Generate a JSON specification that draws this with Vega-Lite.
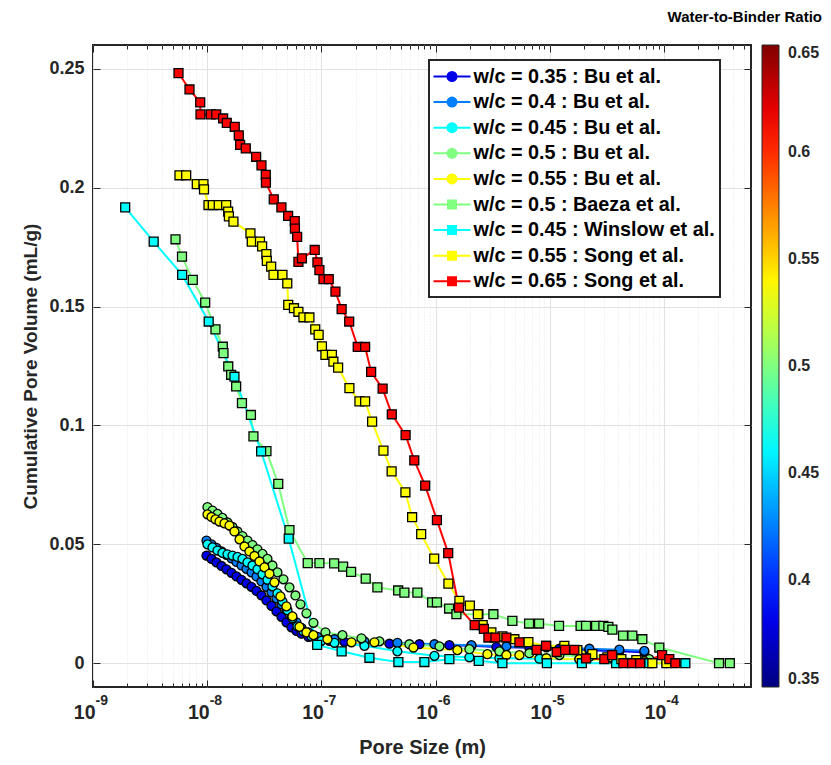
{
  "$schema": "https://vega.github.io/schema/vega-lite/v6.json",
  "autosize": {"type": "none"},
  "padding": {"left": 93, "top": 45, "right": 80, "bottom": 78},
  "width": 658,
  "height": 642,
  "title": {"text": "Water-to-Binder Ratio", "anchor": "end", "frame": "group", "dx": 71, "offset": 20, "fontSize": 15, "font": "Liberation Sans", "fontWeight": "bold", "color": "#000000"},
  "config": {
    "font": "Liberation Sans",
    "view": {"stroke": "#262626", "strokeWidth": 2},
    "axis": {"domain": false, "labelFont": "Liberation Sans", "labelFontWeight": "bold", "labelColor": "#262626", "titleFont": "Liberation Sans", "titleFontWeight": "bold", "titleColor": "#262626", "tickColor": "#262626", "tickWidth": 1, "labelFlush": false, "labelOverlap": false}
  },
  "data": {"values": [
    {"series": "w/c = 0.35 : Bu et al.", "source": "Bu et al.", "wc": 0.35, "pore": 9.86e-9, "vol": 0.0453},
    {"series": "w/c = 0.35 : Bu et al.", "source": "Bu et al.", "wc": 0.35, "pore": 1.091e-8, "vol": 0.0439},
    {"series": "w/c = 0.35 : Bu et al.", "source": "Bu et al.", "wc": 0.35, "pore": 1.206e-8, "vol": 0.0424},
    {"series": "w/c = 0.35 : Bu et al.", "source": "Bu et al.", "wc": 0.35, "pore": 1.335e-8, "vol": 0.0409},
    {"series": "w/c = 0.35 : Bu et al.", "source": "Bu et al.", "wc": 0.35, "pore": 1.476e-8, "vol": 0.0395},
    {"series": "w/c = 0.35 : Bu et al.", "source": "Bu et al.", "wc": 0.35, "pore": 1.633e-8, "vol": 0.0380},
    {"series": "w/c = 0.35 : Bu et al.", "source": "Bu et al.", "wc": 0.35, "pore": 1.806e-8, "vol": 0.0365},
    {"series": "w/c = 0.35 : Bu et al.", "source": "Bu et al.", "wc": 0.35, "pore": 1.998e-8, "vol": 0.0351},
    {"series": "w/c = 0.35 : Bu et al.", "source": "Bu et al.", "wc": 0.35, "pore": 2.209e-8, "vol": 0.0336},
    {"series": "w/c = 0.35 : Bu et al.", "source": "Bu et al.", "wc": 0.35, "pore": 2.443e-8, "vol": 0.0321},
    {"series": "w/c = 0.35 : Bu et al.", "source": "Bu et al.", "wc": 0.35, "pore": 2.702e-8, "vol": 0.0304},
    {"series": "w/c = 0.35 : Bu et al.", "source": "Bu et al.", "wc": 0.35, "pore": 2.989e-8, "vol": 0.0285},
    {"series": "w/c = 0.35 : Bu et al.", "source": "Bu et al.", "wc": 0.35, "pore": 3.306e-8, "vol": 0.0264},
    {"series": "w/c = 0.35 : Bu et al.", "source": "Bu et al.", "wc": 0.35, "pore": 3.657e-8, "vol": 0.0241},
    {"series": "w/c = 0.35 : Bu et al.", "source": "Bu et al.", "wc": 0.35, "pore": 4.045e-8, "vol": 0.0218},
    {"series": "w/c = 0.35 : Bu et al.", "source": "Bu et al.", "wc": 0.35, "pore": 4.474e-8, "vol": 0.0195},
    {"series": "w/c = 0.35 : Bu et al.", "source": "Bu et al.", "wc": 0.35, "pore": 4.948e-8, "vol": 0.0172},
    {"series": "w/c = 0.35 : Bu et al.", "source": "Bu et al.", "wc": 0.35, "pore": 5.474e-8, "vol": 0.0151},
    {"series": "w/c = 0.35 : Bu et al.", "source": "Bu et al.", "wc": 0.35, "pore": 6.054e-8, "vol": 0.0136},
    {"series": "w/c = 0.35 : Bu et al.", "source": "Bu et al.", "wc": 0.35, "pore": 6.696e-8, "vol": 0.0124},
    {"series": "w/c = 0.35 : Bu et al.", "source": "Bu et al.", "wc": 0.35, "pore": 7.711e-8, "vol": 0.0111},
    {"series": "w/c = 0.35 : Bu et al.", "source": "Bu et al.", "wc": 0.35, "pore": 9.244e-8, "vol": 0.0101},
    {"series": "w/c = 0.35 : Bu et al.", "source": "Bu et al.", "wc": 0.35, "pore": 1.177e-7, "vol": 0.0094},
    {"series": "w/c = 0.35 : Bu et al.", "source": "Bu et al.", "wc": 0.35, "pore": 1.593e-7, "vol": 0.0090},
    {"series": "w/c = 0.35 : Bu et al.", "source": "Bu et al.", "wc": 0.35, "pore": 2.385e-7, "vol": 0.0086},
    {"series": "w/c = 0.35 : Bu et al.", "source": "Bu et al.", "wc": 0.35, "pore": 3.948e-7, "vol": 0.0082},
    {"series": "w/c = 0.35 : Bu et al.", "source": "Bu et al.", "wc": 0.35, "pore": 7.229e-7, "vol": 0.0080},
    {"series": "w/c = 0.35 : Bu et al.", "source": "Bu et al.", "wc": 0.35, "pore": 1.323e-6, "vol": 0.0076},
    {"series": "w/c = 0.35 : Bu et al.", "source": "Bu et al.", "wc": 0.35, "pore": 2.062e-6, "vol": 0.0073},
    {"series": "w/c = 0.35 : Bu et al.", "source": "Bu et al.", "wc": 0.35, "pore": 3.415e-6, "vol": 0.0068},
    {"series": "w/c = 0.35 : Bu et al.", "source": "Bu et al.", "wc": 0.35, "pore": 6.642e-6, "vol": 0.0065},
    {"series": "w/c = 0.35 : Bu et al.", "source": "Bu et al.", "wc": 0.35, "pore": 1.216e-5, "vol": 0.0061},
    {"series": "w/c = 0.35 : Bu et al.", "source": "Bu et al.", "wc": 0.35, "pore": 2.227e-5, "vol": 0.0055},
    {"series": "w/c = 0.35 : Bu et al.", "source": "Bu et al.", "wc": 0.35, "pore": 4.077e-5, "vol": 0.0050},
    {"series": "w/c = 0.35 : Bu et al.", "source": "Bu et al.", "wc": 0.35, "pore": 6.749e-5, "vol": 0.0046},

    {"series": "w/c = 0.4 : Bu et al.", "source": "Bu et al.", "wc": 0.4, "pore": 9.86e-9, "vol": 0.0516},
    {"series": "w/c = 0.4 : Bu et al.", "source": "Bu et al.", "wc": 0.4, "pore": 1.091e-8, "vol": 0.0500},
    {"series": "w/c = 0.4 : Bu et al.", "source": "Bu et al.", "wc": 0.4, "pore": 1.206e-8, "vol": 0.0485},
    {"series": "w/c = 0.4 : Bu et al.", "source": "Bu et al.", "wc": 0.4, "pore": 1.335e-8, "vol": 0.0470},
    {"series": "w/c = 0.4 : Bu et al.", "source": "Bu et al.", "wc": 0.4, "pore": 1.476e-8, "vol": 0.0456},
    {"series": "w/c = 0.4 : Bu et al.", "source": "Bu et al.", "wc": 0.4, "pore": 1.633e-8, "vol": 0.0441},
    {"series": "w/c = 0.4 : Bu et al.", "source": "Bu et al.", "wc": 0.4, "pore": 1.806e-8, "vol": 0.0426},
    {"series": "w/c = 0.4 : Bu et al.", "source": "Bu et al.", "wc": 0.4, "pore": 1.998e-8, "vol": 0.0411},
    {"series": "w/c = 0.4 : Bu et al.", "source": "Bu et al.", "wc": 0.4, "pore": 2.209e-8, "vol": 0.0397},
    {"series": "w/c = 0.4 : Bu et al.", "source": "Bu et al.", "wc": 0.4, "pore": 2.443e-8, "vol": 0.0382},
    {"series": "w/c = 0.4 : Bu et al.", "source": "Bu et al.", "wc": 0.4, "pore": 2.702e-8, "vol": 0.0365},
    {"series": "w/c = 0.4 : Bu et al.", "source": "Bu et al.", "wc": 0.4, "pore": 2.989e-8, "vol": 0.0344},
    {"series": "w/c = 0.4 : Bu et al.", "source": "Bu et al.", "wc": 0.4, "pore": 3.306e-8, "vol": 0.0321},
    {"series": "w/c = 0.4 : Bu et al.", "source": "Bu et al.", "wc": 0.4, "pore": 3.657e-8, "vol": 0.0298},
    {"series": "w/c = 0.4 : Bu et al.", "source": "Bu et al.", "wc": 0.4, "pore": 4.045e-8, "vol": 0.0273},
    {"series": "w/c = 0.4 : Bu et al.", "source": "Bu et al.", "wc": 0.4, "pore": 4.474e-8, "vol": 0.0248},
    {"series": "w/c = 0.4 : Bu et al.", "source": "Bu et al.", "wc": 0.4, "pore": 4.948e-8, "vol": 0.0223},
    {"series": "w/c = 0.4 : Bu et al.", "source": "Bu et al.", "wc": 0.4, "pore": 5.474e-8, "vol": 0.0197},
    {"series": "w/c = 0.4 : Bu et al.", "source": "Bu et al.", "wc": 0.4, "pore": 6.054e-8, "vol": 0.0172},
    {"series": "w/c = 0.4 : Bu et al.", "source": "Bu et al.", "wc": 0.4, "pore": 6.696e-8, "vol": 0.0149},
    {"series": "w/c = 0.4 : Bu et al.", "source": "Bu et al.", "wc": 0.4, "pore": 7.711e-8, "vol": 0.0130},
    {"series": "w/c = 0.4 : Bu et al.", "source": "Bu et al.", "wc": 0.4, "pore": 9.244e-8, "vol": 0.0111},
    {"series": "w/c = 0.4 : Bu et al.", "source": "Bu et al.", "wc": 0.4, "pore": 1.302e-7, "vol": 0.0101},
    {"series": "w/c = 0.4 : Bu et al.", "source": "Bu et al.", "wc": 0.4, "pore": 2.385e-7, "vol": 0.0092},
    {"series": "w/c = 0.4 : Bu et al.", "source": "Bu et al.", "wc": 0.4, "pore": 4.639e-7, "vol": 0.0086},
    {"series": "w/c = 0.4 : Bu et al.", "source": "Bu et al.", "wc": 0.4, "pore": 9.781e-7, "vol": 0.0080},
    {"series": "w/c = 0.4 : Bu et al.", "source": "Bu et al.", "wc": 0.4, "pore": 2.062e-6, "vol": 0.0076},
    {"series": "w/c = 0.4 : Bu et al.", "source": "Bu et al.", "wc": 0.4, "pore": 4.177e-6, "vol": 0.0071},
    {"series": "w/c = 0.4 : Bu et al.", "source": "Bu et al.", "wc": 0.4, "pore": 9.356e-6, "vol": 0.0067},
    {"series": "w/c = 0.4 : Bu et al.", "source": "Bu et al.", "wc": 0.4, "pore": 2.227e-5, "vol": 0.0061},
    {"series": "w/c = 0.4 : Bu et al.", "source": "Bu et al.", "wc": 0.4, "pore": 4.077e-5, "vol": 0.0057},
    {"series": "w/c = 0.4 : Bu et al.", "source": "Bu et al.", "wc": 0.4, "pore": 6.749e-5, "vol": 0.0052},

    {"series": "w/c = 0.45 : Bu et al.", "source": "Bu et al.", "wc": 0.45, "pore": 1.006e-8, "vol": 0.0500},
    {"series": "w/c = 0.45 : Bu et al.", "source": "Bu et al.", "wc": 0.45, "pore": 1.113e-8, "vol": 0.0487},
    {"series": "w/c = 0.45 : Bu et al.", "source": "Bu et al.", "wc": 0.45, "pore": 1.231e-8, "vol": 0.0474},
    {"series": "w/c = 0.45 : Bu et al.", "source": "Bu et al.", "wc": 0.45, "pore": 1.361e-8, "vol": 0.0464},
    {"series": "w/c = 0.45 : Bu et al.", "source": "Bu et al.", "wc": 0.45, "pore": 1.506e-8, "vol": 0.0458},
    {"series": "w/c = 0.45 : Bu et al.", "source": "Bu et al.", "wc": 0.45, "pore": 1.666e-8, "vol": 0.0453},
    {"series": "w/c = 0.45 : Bu et al.", "source": "Bu et al.", "wc": 0.45, "pore": 1.843e-8, "vol": 0.0447},
    {"series": "w/c = 0.45 : Bu et al.", "source": "Bu et al.", "wc": 0.45, "pore": 2.038e-8, "vol": 0.0439},
    {"series": "w/c = 0.45 : Bu et al.", "source": "Bu et al.", "wc": 0.45, "pore": 2.254e-8, "vol": 0.0424},
    {"series": "w/c = 0.45 : Bu et al.", "source": "Bu et al.", "wc": 0.45, "pore": 2.493e-8, "vol": 0.0411},
    {"series": "w/c = 0.45 : Bu et al.", "source": "Bu et al.", "wc": 0.45, "pore": 2.757e-8, "vol": 0.0395},
    {"series": "w/c = 0.45 : Bu et al.", "source": "Bu et al.", "wc": 0.45, "pore": 3.050e-8, "vol": 0.0374},
    {"series": "w/c = 0.45 : Bu et al.", "source": "Bu et al.", "wc": 0.45, "pore": 3.373e-8, "vol": 0.0351},
    {"series": "w/c = 0.45 : Bu et al.", "source": "Bu et al.", "wc": 0.45, "pore": 3.731e-8, "vol": 0.0323},
    {"series": "w/c = 0.45 : Bu et al.", "source": "Bu et al.", "wc": 0.45, "pore": 4.127e-8, "vol": 0.0294},
    {"series": "w/c = 0.45 : Bu et al.", "source": "Bu et al.", "wc": 0.45, "pore": 4.565e-8, "vol": 0.0260},
    {"series": "w/c = 0.45 : Bu et al.", "source": "Bu et al.", "wc": 0.45, "pore": 5.049e-8, "vol": 0.0223},
    {"series": "w/c = 0.45 : Bu et al.", "source": "Bu et al.", "wc": 0.45, "pore": 5.585e-8, "vol": 0.0189},
    {"series": "w/c = 0.45 : Bu et al.", "source": "Bu et al.", "wc": 0.45, "pore": 6.177e-8, "vol": 0.0155},
    {"series": "w/c = 0.45 : Bu et al.", "source": "Bu et al.", "wc": 0.45, "pore": 6.971e-8, "vol": 0.0134},
    {"series": "w/c = 0.45 : Bu et al.", "source": "Bu et al.", "wc": 0.45, "pore": 8.191e-8, "vol": 0.0113},
    {"series": "w/c = 0.45 : Bu et al.", "source": "Bu et al.", "wc": 0.45, "pore": 1.002e-7, "vol": 0.0094},
    {"series": "w/c = 0.45 : Bu et al.", "source": "Bu et al.", "wc": 0.45, "pore": 1.302e-7, "vol": 0.0086},
    {"series": "w/c = 0.45 : Bu et al.", "source": "Bu et al.", "wc": 0.45, "pore": 2.385e-7, "vol": 0.0073},
    {"series": "w/c = 0.45 : Bu et al.", "source": "Bu et al.", "wc": 0.45, "pore": 4.639e-7, "vol": 0.0050},
    {"series": "w/c = 0.45 : Bu et al.", "source": "Bu et al.", "wc": 0.45, "pore": 9.781e-7, "vol": 0.0031},
    {"series": "w/c = 0.45 : Bu et al.", "source": "Bu et al.", "wc": 0.45, "pore": 1.981e-6, "vol": 0.0025},
    {"series": "w/c = 0.45 : Bu et al.", "source": "Bu et al.", "wc": 0.45, "pore": 3.627e-6, "vol": 0.0021},
    {"series": "w/c = 0.45 : Bu et al.", "source": "Bu et al.", "wc": 0.45, "pore": 8.125e-6, "vol": 0.0019},
    {"series": "w/c = 0.45 : Bu et al.", "source": "Bu et al.", "wc": 0.45, "pore": 1.820e-5, "vol": 0.0017},
    {"series": "w/c = 0.45 : Bu et al.", "source": "Bu et al.", "wc": 0.45, "pore": 4.077e-5, "vol": 0.0013},
    {"series": "w/c = 0.45 : Bu et al.", "source": "Bu et al.", "wc": 0.45, "pore": 7.465e-5, "vol": 0.0013},

    {"series": "w/c = 0.5 : Bu et al.", "source": "Bu et al.", "wc": 0.5, "pore": 1.006e-8, "vol": 0.0657},
    {"series": "w/c = 0.5 : Bu et al.", "source": "Bu et al.", "wc": 0.5, "pore": 1.113e-8, "vol": 0.0642},
    {"series": "w/c = 0.5 : Bu et al.", "source": "Bu et al.", "wc": 0.5, "pore": 1.231e-8, "vol": 0.0628},
    {"series": "w/c = 0.5 : Bu et al.", "source": "Bu et al.", "wc": 0.5, "pore": 1.361e-8, "vol": 0.0611},
    {"series": "w/c = 0.5 : Bu et al.", "source": "Bu et al.", "wc": 0.5, "pore": 1.506e-8, "vol": 0.0592},
    {"series": "w/c = 0.5 : Bu et al.", "source": "Bu et al.", "wc": 0.5, "pore": 1.666e-8, "vol": 0.0573},
    {"series": "w/c = 0.5 : Bu et al.", "source": "Bu et al.", "wc": 0.5, "pore": 1.843e-8, "vol": 0.0554},
    {"series": "w/c = 0.5 : Bu et al.", "source": "Bu et al.", "wc": 0.5, "pore": 2.038e-8, "vol": 0.0535},
    {"series": "w/c = 0.5 : Bu et al.", "source": "Bu et al.", "wc": 0.5, "pore": 2.254e-8, "vol": 0.0516},
    {"series": "w/c = 0.5 : Bu et al.", "source": "Bu et al.", "wc": 0.5, "pore": 2.493e-8, "vol": 0.0497},
    {"series": "w/c = 0.5 : Bu et al.", "source": "Bu et al.", "wc": 0.5, "pore": 2.757e-8, "vol": 0.0479},
    {"series": "w/c = 0.5 : Bu et al.", "source": "Bu et al.", "wc": 0.5, "pore": 3.050e-8, "vol": 0.0460},
    {"series": "w/c = 0.5 : Bu et al.", "source": "Bu et al.", "wc": 0.5, "pore": 3.373e-8, "vol": 0.0439},
    {"series": "w/c = 0.5 : Bu et al.", "source": "Bu et al.", "wc": 0.5, "pore": 3.731e-8, "vol": 0.0411},
    {"series": "w/c = 0.5 : Bu et al.", "source": "Bu et al.", "wc": 0.5, "pore": 4.127e-8, "vol": 0.0382},
    {"series": "w/c = 0.5 : Bu et al.", "source": "Bu et al.", "wc": 0.5, "pore": 4.658e-8, "vol": 0.0353},
    {"series": "w/c = 0.5 : Bu et al.", "source": "Bu et al.", "wc": 0.5, "pore": 5.257e-8, "vol": 0.0319},
    {"series": "w/c = 0.5 : Bu et al.", "source": "Bu et al.", "wc": 0.5, "pore": 5.933e-8, "vol": 0.0285},
    {"series": "w/c = 0.5 : Bu et al.", "source": "Bu et al.", "wc": 0.5, "pore": 6.562e-8, "vol": 0.0248},
    {"series": "w/c = 0.5 : Bu et al.", "source": "Bu et al.", "wc": 0.5, "pore": 7.406e-8, "vol": 0.0210},
    {"series": "w/c = 0.5 : Bu et al.", "source": "Bu et al.", "wc": 0.5, "pore": 8.529e-8, "vol": 0.0170},
    {"series": "w/c = 0.5 : Bu et al.", "source": "Bu et al.", "wc": 0.5, "pore": 1.086e-7, "vol": 0.0130},
    {"series": "w/c = 0.5 : Bu et al.", "source": "Bu et al.", "wc": 0.5, "pore": 1.530e-7, "vol": 0.0118},
    {"series": "w/c = 0.5 : Bu et al.", "source": "Bu et al.", "wc": 0.5, "pore": 2.245e-7, "vol": 0.0105},
    {"series": "w/c = 0.5 : Bu et al.", "source": "Bu et al.", "wc": 0.5, "pore": 3.228e-7, "vol": 0.0092},
    {"series": "w/c = 0.5 : Bu et al.", "source": "Bu et al.", "wc": 0.5, "pore": 5.906e-7, "vol": 0.0080},
    {"series": "w/c = 0.5 : Bu et al.", "source": "Bu et al.", "wc": 0.5, "pore": 1.082e-6, "vol": 0.0071},
    {"series": "w/c = 0.5 : Bu et al.", "source": "Bu et al.", "wc": 0.5, "pore": 1.981e-6, "vol": 0.0059},
    {"series": "w/c = 0.5 : Bu et al.", "source": "Bu et al.", "wc": 0.5, "pore": 3.627e-6, "vol": 0.0050},
    {"series": "w/c = 0.5 : Bu et al.", "source": "Bu et al.", "wc": 0.5, "pore": 6.642e-6, "vol": 0.0042},
    {"series": "w/c = 0.5 : Bu et al.", "source": "Bu et al.", "wc": 0.5, "pore": 1.216e-5, "vol": 0.0034},
    {"series": "w/c = 0.5 : Bu et al.", "source": "Bu et al.", "wc": 0.5, "pore": 2.227e-5, "vol": 0.0027},
    {"series": "w/c = 0.5 : Bu et al.", "source": "Bu et al.", "wc": 0.5, "pore": 4.077e-5, "vol": 0.0021},
    {"series": "w/c = 0.5 : Bu et al.", "source": "Bu et al.", "wc": 0.5, "pore": 7.465e-5, "vol": 0.0017},

    {"series": "w/c = 0.55 : Bu et al.", "source": "Bu et al.", "wc": 0.55, "pore": 1.006e-8, "vol": 0.0626},
    {"series": "w/c = 0.55 : Bu et al.", "source": "Bu et al.", "wc": 0.55, "pore": 1.091e-8, "vol": 0.0615},
    {"series": "w/c = 0.55 : Bu et al.", "source": "Bu et al.", "wc": 0.55, "pore": 1.182e-8, "vol": 0.0605},
    {"series": "w/c = 0.55 : Bu et al.", "source": "Bu et al.", "wc": 0.55, "pore": 1.282e-8, "vol": 0.0596},
    {"series": "w/c = 0.55 : Bu et al.", "source": "Bu et al.", "wc": 0.55, "pore": 1.417e-8, "vol": 0.0588},
    {"series": "w/c = 0.55 : Bu et al.", "source": "Bu et al.", "wc": 0.55, "pore": 1.568e-8, "vol": 0.0579},
    {"series": "w/c = 0.55 : Bu et al.", "source": "Bu et al.", "wc": 0.55, "pore": 1.734e-8, "vol": 0.0554},
    {"series": "w/c = 0.55 : Bu et al.", "source": "Bu et al.", "wc": 0.55, "pore": 1.919e-8, "vol": 0.0521},
    {"series": "w/c = 0.55 : Bu et al.", "source": "Bu et al.", "wc": 0.55, "pore": 2.122e-8, "vol": 0.0491},
    {"series": "w/c = 0.55 : Bu et al.", "source": "Bu et al.", "wc": 0.55, "pore": 2.347e-8, "vol": 0.0470},
    {"series": "w/c = 0.55 : Bu et al.", "source": "Bu et al.", "wc": 0.55, "pore": 2.595e-8, "vol": 0.0451},
    {"series": "w/c = 0.55 : Bu et al.", "source": "Bu et al.", "wc": 0.55, "pore": 2.871e-8, "vol": 0.0428},
    {"series": "w/c = 0.55 : Bu et al.", "source": "Bu et al.", "wc": 0.55, "pore": 3.175e-8, "vol": 0.0403},
    {"series": "w/c = 0.55 : Bu et al.", "source": "Bu et al.", "wc": 0.55, "pore": 3.512e-8, "vol": 0.0376},
    {"series": "w/c = 0.55 : Bu et al.", "source": "Bu et al.", "wc": 0.55, "pore": 3.885e-8, "vol": 0.0340},
    {"series": "w/c = 0.55 : Bu et al.", "source": "Bu et al.", "wc": 0.55, "pore": 4.385e-8, "vol": 0.0281},
    {"series": "w/c = 0.55 : Bu et al.", "source": "Bu et al.", "wc": 0.55, "pore": 4.948e-8, "vol": 0.0239},
    {"series": "w/c = 0.55 : Bu et al.", "source": "Bu et al.", "wc": 0.55, "pore": 5.585e-8, "vol": 0.0197},
    {"series": "w/c = 0.55 : Bu et al.", "source": "Bu et al.", "wc": 0.55, "pore": 6.431e-8, "vol": 0.0153},
    {"series": "w/c = 0.55 : Bu et al.", "source": "Bu et al.", "wc": 0.55, "pore": 7.406e-8, "vol": 0.0130},
    {"series": "w/c = 0.55 : Bu et al.", "source": "Bu et al.", "wc": 0.55, "pore": 8.529e-8, "vol": 0.0118},
    {"series": "w/c = 0.55 : Bu et al.", "source": "Bu et al.", "wc": 0.55, "pore": 1.131e-7, "vol": 0.0101},
    {"series": "w/c = 0.55 : Bu et al.", "source": "Bu et al.", "wc": 0.55, "pore": 1.835e-7, "vol": 0.0088},
    {"series": "w/c = 0.55 : Bu et al.", "source": "Bu et al.", "wc": 0.55, "pore": 2.918e-7, "vol": 0.0088},
    {"series": "w/c = 0.55 : Bu et al.", "source": "Bu et al.", "wc": 0.55, "pore": 6.405e-7, "vol": 0.0066},
    {"series": "w/c = 0.55 : Bu et al.", "source": "Bu et al.", "wc": 0.55, "pore": 1.555e-6, "vol": 0.0055},
    {"series": "w/c = 0.55 : Bu et al.", "source": "Bu et al.", "wc": 0.55, "pore": 2.848e-6, "vol": 0.0038},
    {"series": "w/c = 0.55 : Bu et al.", "source": "Bu et al.", "wc": 0.55, "pore": 4.177e-6, "vol": 0.0034},
    {"series": "w/c = 0.55 : Bu et al.", "source": "Bu et al.", "wc": 0.55, "pore": 5.428e-6, "vol": 0.0034},
    {"series": "w/c = 0.55 : Bu et al.", "source": "Bu et al.", "wc": 0.55, "pore": 9.356e-6, "vol": 0.0021},
    {"series": "w/c = 0.55 : Bu et al.", "source": "Bu et al.", "wc": 0.55, "pore": 1.820e-5, "vol": 0.0017},
    {"series": "w/c = 0.55 : Bu et al.", "source": "Bu et al.", "wc": 0.55, "pore": 3.686e-5, "vol": 0.0013},
    {"series": "w/c = 0.55 : Bu et al.", "source": "Bu et al.", "wc": 0.55, "pore": 6.749e-5, "vol": 0.0008},
    {"series": "w/c = 0.55 : Bu et al.", "source": "Bu et al.", "wc": 0.55, "pore": 1.052e-4, "vol": 0.0},

    {"series": "w/c = 0.5 : Baeza et al.", "source": "Baeza et al.", "wc": 0.5, "pore": 5.28e-9, "vol": 0.1783},
    {"series": "w/c = 0.5 : Baeza et al.", "source": "Baeza et al.", "wc": 0.5, "pore": 6.02e-9, "vol": 0.1710},
    {"series": "w/c = 0.5 : Baeza et al.", "source": "Baeza et al.", "wc": 0.5, "pore": 7.48e-9, "vol": 0.1612},
    {"series": "w/c = 0.5 : Baeza et al.", "source": "Baeza et al.", "wc": 0.5, "pore": 9.61e-9, "vol": 0.1517},
    {"series": "w/c = 0.5 : Baeza et al.", "source": "Baeza et al.", "wc": 0.5, "pore": 1.182e-8, "vol": 0.1404},
    {"series": "w/c = 0.5 : Baeza et al.", "source": "Baeza et al.", "wc": 0.5, "pore": 1.37e-8, "vol": 0.1331},
    {"series": "w/c = 0.5 : Baeza et al.", "source": "Baeza et al.", "wc": 0.5, "pore": 1.39e-8, "vol": 0.1304},
    {"series": "w/c = 0.5 : Baeza et al.", "source": "Baeza et al.", "wc": 0.5, "pore": 1.53e-8, "vol": 0.1248},
    {"series": "w/c = 0.5 : Baeza et al.", "source": "Baeza et al.", "wc": 0.5, "pore": 1.622e-8, "vol": 0.1213},
    {"series": "w/c = 0.5 : Baeza et al.", "source": "Baeza et al.", "wc": 0.5, "pore": 1.794e-8, "vol": 0.1164},
    {"series": "w/c = 0.5 : Baeza et al.", "source": "Baeza et al.", "wc": 0.5, "pore": 2.017e-8, "vol": 0.1094},
    {"series": "w/c = 0.5 : Baeza et al.", "source": "Baeza et al.", "wc": 0.5, "pore": 2.417e-8, "vol": 0.1044},
    {"series": "w/c = 0.5 : Baeza et al.", "source": "Baeza et al.", "wc": 0.5, "pore": 2.543e-8, "vol": 0.0954},
    {"series": "w/c = 0.5 : Baeza et al.", "source": "Baeza et al.", "wc": 0.5, "pore": 3.306e-8, "vol": 0.0892},
    {"series": "w/c = 0.5 : Baeza et al.", "source": "Baeza et al.", "wc": 0.5, "pore": 4.195e-8, "vol": 0.0754},
    {"series": "w/c = 0.5 : Baeza et al.", "source": "Baeza et al.", "wc": 0.5, "pore": 5.257e-8, "vol": 0.0560},
    {"series": "w/c = 0.5 : Baeza et al.", "source": "Baeza et al.", "wc": 0.5, "pore": 7.60e-8, "vol": 0.0421},
    {"series": "w/c = 0.5 : Baeza et al.", "source": "Baeza et al.", "wc": 0.5, "pore": 9.62e-8, "vol": 0.0421},
    {"series": "w/c = 0.5 : Baeza et al.", "source": "Baeza et al.", "wc": 0.5, "pore": 1.294e-7, "vol": 0.0420},
    {"series": "w/c = 0.5 : Baeza et al.", "source": "Baeza et al.", "wc": 0.5, "pore": 1.552e-7, "vol": 0.0406},
    {"series": "w/c = 0.5 : Baeza et al.", "source": "Baeza et al.", "wc": 0.5, "pore": 1.823e-7, "vol": 0.0384},
    {"series": "w/c = 0.5 : Baeza et al.", "source": "Baeza et al.", "wc": 0.5, "pore": 2.447e-7, "vol": 0.0356},
    {"series": "w/c = 0.5 : Baeza et al.", "source": "Baeza et al.", "wc": 0.5, "pore": 3.098e-7, "vol": 0.0319},
    {"series": "w/c = 0.5 : Baeza et al.", "source": "Baeza et al.", "wc": 0.5, "pore": 4.71e-7, "vol": 0.0306},
    {"series": "w/c = 0.5 : Baeza et al.", "source": "Baeza et al.", "wc": 0.5, "pore": 5.34e-7, "vol": 0.0297},
    {"series": "w/c = 0.5 : Baeza et al.", "source": "Baeza et al.", "wc": 0.5, "pore": 6.94e-7, "vol": 0.0297},
    {"series": "w/c = 0.5 : Baeza et al.", "source": "Baeza et al.", "wc": 0.5, "pore": 9.34e-7, "vol": 0.0256},
    {"series": "w/c = 0.5 : Baeza et al.", "source": "Baeza et al.", "wc": 0.5, "pore": 1.029e-6, "vol": 0.0256},
    {"series": "w/c = 0.5 : Baeza et al.", "source": "Baeza et al.", "wc": 0.5, "pore": 1.315e-6, "vol": 0.0230},
    {"series": "w/c = 0.5 : Baeza et al.", "source": "Baeza et al.", "wc": 0.5, "pore": 1.524e-6, "vol": 0.0206},
    {"series": "w/c = 0.5 : Baeza et al.", "source": "Baeza et al.", "wc": 0.5, "pore": 2.375e-6, "vol": 0.0206},
    {"series": "w/c = 0.5 : Baeza et al.", "source": "Baeza et al.", "wc": 0.5, "pore": 3.214e-6, "vol": 0.0206},
    {"series": "w/c = 0.5 : Baeza et al.", "source": "Baeza et al.", "wc": 0.5, "pore": 4.715e-6, "vol": 0.0178},
    {"series": "w/c = 0.5 : Baeza et al.", "source": "Baeza et al.", "wc": 0.5, "pore": 6.60e-6, "vol": 0.0167},
    {"series": "w/c = 0.5 : Baeza et al.", "source": "Baeza et al.", "wc": 0.5, "pore": 8.07e-6, "vol": 0.0167},
    {"series": "w/c = 0.5 : Baeza et al.", "source": "Baeza et al.", "wc": 0.5, "pore": 1.208e-5, "vol": 0.0157},
    {"series": "w/c = 0.5 : Baeza et al.", "source": "Baeza et al.", "wc": 0.5, "pore": 1.865e-5, "vol": 0.0157},
    {"series": "w/c = 0.5 : Baeza et al.", "source": "Baeza et al.", "wc": 0.5, "pore": 2.083e-5, "vol": 0.0157},
    {"series": "w/c = 0.5 : Baeza et al.", "source": "Baeza et al.", "wc": 0.5, "pore": 2.548e-5, "vol": 0.0157},
    {"series": "w/c = 0.5 : Baeza et al.", "source": "Baeza et al.", "wc": 0.5, "pore": 2.952e-5, "vol": 0.0157},
    {"series": "w/c = 0.5 : Baeza et al.", "source": "Baeza et al.", "wc": 0.5, "pore": 3.266e-5, "vol": 0.0153},
    {"series": "w/c = 0.5 : Baeza et al.", "source": "Baeza et al.", "wc": 0.5, "pore": 3.54e-5, "vol": 0.0141},
    {"series": "w/c = 0.5 : Baeza et al.", "source": "Baeza et al.", "wc": 0.5, "pore": 4.39e-5, "vol": 0.0116},
    {"series": "w/c = 0.5 : Baeza et al.", "source": "Baeza et al.", "wc": 0.5, "pore": 5.30e-5, "vol": 0.0116},
    {"series": "w/c = 0.5 : Baeza et al.", "source": "Baeza et al.", "wc": 0.5, "pore": 6.48e-5, "vol": 0.0101},
    {"series": "w/c = 0.5 : Baeza et al.", "source": "Baeza et al.", "wc": 0.5, "pore": 9.13e-5, "vol": 0.0066},
    {"series": "w/c = 0.5 : Baeza et al.", "source": "Baeza et al.", "wc": 0.5, "pore": 3.043e-4, "vol": 0.0},
    {"series": "w/c = 0.5 : Baeza et al.", "source": "Baeza et al.", "wc": 0.5, "pore": 3.784e-4, "vol": 0.0},

    {"series": "w/c = 0.45 : Winslow et al.", "source": "Winslow et al.", "wc": 0.45, "pore": 1.914e-9, "vol": 0.1917},
    {"series": "w/c = 0.45 : Winslow et al.", "source": "Winslow et al.", "wc": 0.45, "pore": 3.40e-9, "vol": 0.1773},
    {"series": "w/c = 0.45 : Winslow et al.", "source": "Winslow et al.", "wc": 0.45, "pore": 6.04e-9, "vol": 0.1633},
    {"series": "w/c = 0.45 : Winslow et al.", "source": "Winslow et al.", "wc": 0.45, "pore": 1.031e-8, "vol": 0.1437},
    {"series": "w/c = 0.45 : Winslow et al.", "source": "Winslow et al.", "wc": 0.45, "pore": 1.734e-8, "vol": 0.1205},
    {"series": "w/c = 0.45 : Winslow et al.", "source": "Winslow et al.", "wc": 0.45, "pore": 2.97e-8, "vol": 0.0891},
    {"series": "w/c = 0.45 : Winslow et al.", "source": "Winslow et al.", "wc": 0.45, "pore": 5.18e-8, "vol": 0.0524},
    {"series": "w/c = 0.45 : Winslow et al.", "source": "Winslow et al.", "wc": 0.45, "pore": 9.19e-8, "vol": 0.0077},
    {"series": "w/c = 0.45 : Winslow et al.", "source": "Winslow et al.", "wc": 0.45, "pore": 1.506e-7, "vol": 0.0050},
    {"series": "w/c = 0.45 : Winslow et al.", "source": "Winslow et al.", "wc": 0.45, "pore": 2.638e-7, "vol": 0.0023},
    {"series": "w/c = 0.45 : Winslow et al.", "source": "Winslow et al.", "wc": 0.45, "pore": 4.73e-7, "vol": 0.0005},
    {"series": "w/c = 0.45 : Winslow et al.", "source": "Winslow et al.", "wc": 0.45, "pore": 7.99e-7, "vol": 0.0005},
    {"series": "w/c = 0.45 : Winslow et al.", "source": "Winslow et al.", "wc": 0.45, "pore": 1.323e-6, "vol": 0.0017},
    {"series": "w/c = 0.45 : Winslow et al.", "source": "Winslow et al.", "wc": 0.45, "pore": 2.39e-6, "vol": 0.0010},
    {"series": "w/c = 0.45 : Winslow et al.", "source": "Winslow et al.", "wc": 0.45, "pore": 3.853e-6, "vol": 0.0},
    {"series": "w/c = 0.45 : Winslow et al.", "source": "Winslow et al.", "wc": 0.45, "pore": 9.45e-6, "vol": 0.0},
    {"series": "w/c = 0.45 : Winslow et al.", "source": "Winslow et al.", "wc": 0.45, "pore": 1.914e-5, "vol": 0.0},
    {"series": "w/c = 0.45 : Winslow et al.", "source": "Winslow et al.", "wc": 0.45, "pore": 3.815e-5, "vol": 0.0},
    {"series": "w/c = 0.45 : Winslow et al.", "source": "Winslow et al.", "wc": 0.45, "pore": 7.46e-5, "vol": 0.0},
    {"series": "w/c = 0.45 : Winslow et al.", "source": "Winslow et al.", "wc": 0.45, "pore": 1.543e-4, "vol": 0.0},

    {"series": "w/c = 0.55 : Song et al.", "source": "Song et al.", "wc": 0.55, "pore": 5.72e-9, "vol": 0.2052},
    {"series": "w/c = 0.55 : Song et al.", "source": "Song et al.", "wc": 0.55, "pore": 6.55e-9, "vol": 0.2052},
    {"series": "w/c = 0.55 : Song et al.", "source": "Song et al.", "wc": 0.55, "pore": 8.11e-9, "vol": 0.2015},
    {"series": "w/c = 0.55 : Song et al.", "source": "Song et al.", "wc": 0.55, "pore": 9.28e-9, "vol": 0.2015},
    {"series": "w/c = 0.55 : Song et al.", "source": "Song et al.", "wc": 0.55, "pore": 9.38e-9, "vol": 0.1993},
    {"series": "w/c = 0.55 : Song et al.", "source": "Song et al.", "wc": 0.55, "pore": 1.027e-8, "vol": 0.1927},
    {"series": "w/c = 0.55 : Song et al.", "source": "Song et al.", "wc": 0.55, "pore": 1.119e-8, "vol": 0.1927},
    {"series": "w/c = 0.55 : Song et al.", "source": "Song et al.", "wc": 0.55, "pore": 1.263e-8, "vol": 0.1927},
    {"series": "w/c = 0.55 : Song et al.", "source": "Song et al.", "wc": 0.55, "pore": 1.467e-8, "vol": 0.1927},
    {"series": "w/c = 0.55 : Song et al.", "source": "Song et al.", "wc": 0.55, "pore": 1.527e-8, "vol": 0.1899},
    {"series": "w/c = 0.55 : Song et al.", "source": "Song et al.", "wc": 0.55, "pore": 1.55e-8, "vol": 0.1879},
    {"series": "w/c = 0.55 : Song et al.", "source": "Song et al.", "wc": 0.55, "pore": 1.699e-8, "vol": 0.1857},
    {"series": "w/c = 0.55 : Song et al.", "source": "Song et al.", "wc": 0.55, "pore": 2.394e-8, "vol": 0.1808},
    {"series": "w/c = 0.55 : Song et al.", "source": "Song et al.", "wc": 0.55, "pore": 2.457e-8, "vol": 0.1773},
    {"series": "w/c = 0.55 : Song et al.", "source": "Song et al.", "wc": 0.55, "pore": 2.90e-8, "vol": 0.1773},
    {"series": "w/c = 0.55 : Song et al.", "source": "Song et al.", "wc": 0.55, "pore": 3.03e-8, "vol": 0.1753},
    {"series": "w/c = 0.55 : Song et al.", "source": "Song et al.", "wc": 0.55, "pore": 3.30e-8, "vol": 0.1721},
    {"series": "w/c = 0.55 : Song et al.", "source": "Song et al.", "wc": 0.55, "pore": 3.33e-8, "vol": 0.1692},
    {"series": "w/c = 0.55 : Song et al.", "source": "Song et al.", "wc": 0.55, "pore": 3.635e-8, "vol": 0.1668},
    {"series": "w/c = 0.55 : Song et al.", "source": "Song et al.", "wc": 0.55, "pore": 3.81e-8, "vol": 0.1633},
    {"series": "w/c = 0.55 : Song et al.", "source": "Song et al.", "wc": 0.55, "pore": 4.565e-8, "vol": 0.1633},
    {"series": "w/c = 0.55 : Song et al.", "source": "Song et al.", "wc": 0.55, "pore": 5.03e-8, "vol": 0.1597},
    {"series": "w/c = 0.55 : Song et al.", "source": "Song et al.", "wc": 0.55, "pore": 5.13e-8, "vol": 0.1507},
    {"series": "w/c = 0.55 : Song et al.", "source": "Song et al.", "wc": 0.55, "pore": 5.755e-8, "vol": 0.1493},
    {"series": "w/c = 0.55 : Song et al.", "source": "Song et al.", "wc": 0.55, "pore": 6.30e-8, "vol": 0.1478},
    {"series": "w/c = 0.55 : Song et al.", "source": "Song et al.", "wc": 0.55, "pore": 6.97e-8, "vol": 0.1455},
    {"series": "w/c = 0.55 : Song et al.", "source": "Song et al.", "wc": 0.55, "pore": 7.865e-8, "vol": 0.1454},
    {"series": "w/c = 0.55 : Song et al.", "source": "Song et al.", "wc": 0.55, "pore": 8.84e-8, "vol": 0.1404},
    {"series": "w/c = 0.55 : Song et al.", "source": "Song et al.", "wc": 0.55, "pore": 9.47e-8, "vol": 0.1381},
    {"series": "w/c = 0.55 : Song et al.", "source": "Song et al.", "wc": 0.55, "pore": 1.012e-7, "vol": 0.1333},
    {"series": "w/c = 0.55 : Song et al.", "source": "Song et al.", "wc": 0.55, "pore": 1.086e-7, "vol": 0.1297},
    {"series": "w/c = 0.55 : Song et al.", "source": "Song et al.", "wc": 0.55, "pore": 1.238e-7, "vol": 0.1297},
    {"series": "w/c = 0.55 : Song et al.", "source": "Song et al.", "wc": 0.55, "pore": 1.276e-7, "vol": 0.1268},
    {"series": "w/c = 0.55 : Song et al.", "source": "Song et al.", "wc": 0.55, "pore": 1.403e-7, "vol": 0.1243},
    {"series": "w/c = 0.55 : Song et al.", "source": "Song et al.", "wc": 0.55, "pore": 1.762e-7, "vol": 0.1157},
    {"series": "w/c = 0.55 : Song et al.", "source": "Song et al.", "wc": 0.55, "pore": 2.156e-7, "vol": 0.1101},
    {"series": "w/c = 0.55 : Song et al.", "source": "Song et al.", "wc": 0.55, "pore": 2.418e-7, "vol": 0.1101},
    {"series": "w/c = 0.55 : Song et al.", "source": "Song et al.", "wc": 0.55, "pore": 2.785e-7, "vol": 0.1016},
    {"series": "w/c = 0.55 : Song et al.", "source": "Song et al.", "wc": 0.55, "pore": 3.498e-7, "vol": 0.0894},
    {"series": "w/c = 0.55 : Song et al.", "source": "Song et al.", "wc": 0.55, "pore": 4.127e-7, "vol": 0.0807},
    {"series": "w/c = 0.55 : Song et al.", "source": "Song et al.", "wc": 0.55, "pore": 5.45e-7, "vol": 0.0719},
    {"series": "w/c = 0.55 : Song et al.", "source": "Song et al.", "wc": 0.55, "pore": 6.24e-7, "vol": 0.0614},
    {"series": "w/c = 0.55 : Song et al.", "source": "Song et al.", "wc": 0.55, "pore": 7.49e-7, "vol": 0.0543},
    {"series": "w/c = 0.55 : Song et al.", "source": "Song et al.", "wc": 0.55, "pore": 9.74e-7, "vol": 0.0440},
    {"series": "w/c = 0.55 : Song et al.", "source": "Song et al.", "wc": 0.55, "pore": 1.297e-6, "vol": 0.0335},
    {"series": "w/c = 0.55 : Song et al.", "source": "Song et al.", "wc": 0.55, "pore": 1.619e-6, "vol": 0.0262},
    {"series": "w/c = 0.55 : Song et al.", "source": "Song et al.", "wc": 0.55, "pore": 2.0e-6, "vol": 0.0242},
    {"series": "w/c = 0.55 : Song et al.", "source": "Song et al.", "wc": 0.55, "pore": 2.35e-6, "vol": 0.0206},
    {"series": "w/c = 0.55 : Song et al.", "source": "Song et al.", "wc": 0.55, "pore": 2.59e-6, "vol": 0.0160},
    {"series": "w/c = 0.55 : Song et al.", "source": "Song et al.", "wc": 0.55, "pore": 3.087e-6, "vol": 0.0130},
    {"series": "w/c = 0.55 : Song et al.", "source": "Song et al.", "wc": 0.55, "pore": 3.853e-6, "vol": 0.0113},
    {"series": "w/c = 0.55 : Song et al.", "source": "Song et al.", "wc": 0.55, "pore": 4.91e-6, "vol": 0.0101},
    {"series": "w/c = 0.55 : Song et al.", "source": "Song et al.", "wc": 0.55, "pore": 6.51e-6, "vol": 0.0089},
    {"series": "w/c = 0.55 : Song et al.", "source": "Song et al.", "wc": 0.55, "pore": 9.30e-6, "vol": 0.0073},
    {"series": "w/c = 0.55 : Song et al.", "source": "Song et al.", "wc": 0.55, "pore": 1.345e-5, "vol": 0.0073},
    {"series": "w/c = 0.55 : Song et al.", "source": "Song et al.", "wc": 0.55, "pore": 1.748e-5, "vol": 0.0055},
    {"series": "w/c = 0.55 : Song et al.", "source": "Song et al.", "wc": 0.55, "pore": 2.366e-5, "vol": 0.0038},
    {"series": "w/c = 0.55 : Song et al.", "source": "Song et al.", "wc": 0.55, "pore": 3.20e-5, "vol": 0.0025},
    {"series": "w/c = 0.55 : Song et al.", "source": "Song et al.", "wc": 0.55, "pore": 4.245e-5, "vol": 0.0017},
    {"series": "w/c = 0.55 : Song et al.", "source": "Song et al.", "wc": 0.55, "pore": 5.74e-5, "vol": 0.0013},
    {"series": "w/c = 0.55 : Song et al.", "source": "Song et al.", "wc": 0.55, "pore": 7.93e-5, "vol": 0.0},
    {"series": "w/c = 0.55 : Song et al.", "source": "Song et al.", "wc": 0.55, "pore": 1.052e-4, "vol": 0.0},

    {"series": "w/c = 0.65 : Song et al.", "source": "Song et al.", "wc": 0.65, "pore": 5.61e-9, "vol": 0.2482},
    {"series": "w/c = 0.65 : Song et al.", "source": "Song et al.", "wc": 0.65, "pore": 7.00e-9, "vol": 0.2413},
    {"series": "w/c = 0.65 : Song et al.", "source": "Song et al.", "wc": 0.65, "pore": 8.69e-9, "vol": 0.2359},
    {"series": "w/c = 0.65 : Song et al.", "source": "Song et al.", "wc": 0.65, "pore": 8.74e-9, "vol": 0.2308},
    {"series": "w/c = 0.65 : Song et al.", "source": "Song et al.", "wc": 0.65, "pore": 1.075e-8, "vol": 0.2308},
    {"series": "w/c = 0.65 : Song et al.", "source": "Song et al.", "wc": 0.65, "pore": 1.20e-8, "vol": 0.2308},
    {"series": "w/c = 0.65 : Song et al.", "source": "Song et al.", "wc": 0.65, "pore": 1.38e-8, "vol": 0.2291},
    {"series": "w/c = 0.65 : Song et al.", "source": "Song et al.", "wc": 0.65, "pore": 1.485e-8, "vol": 0.2272},
    {"series": "w/c = 0.65 : Song et al.", "source": "Song et al.", "wc": 0.65, "pore": 1.744e-8, "vol": 0.2256},
    {"series": "w/c = 0.65 : Song et al.", "source": "Song et al.", "wc": 0.65, "pore": 1.891e-8, "vol": 0.2220},
    {"series": "w/c = 0.65 : Song et al.", "source": "Song et al.", "wc": 0.65, "pore": 1.945e-8, "vol": 0.2180},
    {"series": "w/c = 0.65 : Song et al.", "source": "Song et al.", "wc": 0.65, "pore": 2.178e-8, "vol": 0.2165},
    {"series": "w/c = 0.65 : Song et al.", "source": "Song et al.", "wc": 0.65, "pore": 2.685e-8, "vol": 0.2130},
    {"series": "w/c = 0.65 : Song et al.", "source": "Song et al.", "wc": 0.65, "pore": 2.99e-8, "vol": 0.2094},
    {"series": "w/c = 0.65 : Song et al.", "source": "Song et al.", "wc": 0.65, "pore": 3.26e-8, "vol": 0.2054},
    {"series": "w/c = 0.65 : Song et al.", "source": "Song et al.", "wc": 0.65, "pore": 3.27e-8, "vol": 0.2021},
    {"series": "w/c = 0.65 : Song et al.", "source": "Song et al.", "wc": 0.65, "pore": 3.83e-8, "vol": 0.1951},
    {"series": "w/c = 0.65 : Song et al.", "source": "Song et al.", "wc": 0.65, "pore": 4.47e-8, "vol": 0.1917},
    {"series": "w/c = 0.65 : Song et al.", "source": "Song et al.", "wc": 0.65, "pore": 5.12e-8, "vol": 0.1881},
    {"series": "w/c = 0.65 : Song et al.", "source": "Song et al.", "wc": 0.65, "pore": 5.85e-8, "vol": 0.1859},
    {"series": "w/c = 0.65 : Song et al.", "source": "Song et al.", "wc": 0.65, "pore": 5.87e-8, "vol": 0.1828},
    {"series": "w/c = 0.65 : Song et al.", "source": "Song et al.", "wc": 0.65, "pore": 6.14e-8, "vol": 0.1793},
    {"series": "w/c = 0.65 : Song et al.", "source": "Song et al.", "wc": 0.65, "pore": 6.30e-8, "vol": 0.1688},
    {"series": "w/c = 0.65 : Song et al.", "source": "Song et al.", "wc": 0.65, "pore": 6.76e-8, "vol": 0.1703},
    {"series": "w/c = 0.65 : Song et al.", "source": "Song et al.", "wc": 0.65, "pore": 8.75e-8, "vol": 0.1738},
    {"series": "w/c = 0.65 : Song et al.", "source": "Song et al.", "wc": 0.65, "pore": 9.24e-8, "vol": 0.1686},
    {"series": "w/c = 0.65 : Song et al.", "source": "Song et al.", "wc": 0.65, "pore": 9.62e-8, "vol": 0.1653},
    {"series": "w/c = 0.65 : Song et al.", "source": "Song et al.", "wc": 0.65, "pore": 1.043e-7, "vol": 0.1615},
    {"series": "w/c = 0.65 : Song et al.", "source": "Song et al.", "wc": 0.65, "pore": 1.161e-7, "vol": 0.1615},
    {"series": "w/c = 0.65 : Song et al.", "source": "Song et al.", "wc": 0.65, "pore": 1.329e-7, "vol": 0.1563},
    {"series": "w/c = 0.65 : Song et al.", "source": "Song et al.", "wc": 0.65, "pore": 1.506e-7, "vol": 0.1489},
    {"series": "w/c = 0.65 : Song et al.", "source": "Song et al.", "wc": 0.65, "pore": 1.754e-7, "vol": 0.1437},
    {"series": "w/c = 0.65 : Song et al.", "source": "Song et al.", "wc": 0.65, "pore": 2.083e-7, "vol": 0.1330},
    {"series": "w/c = 0.65 : Song et al.", "source": "Song et al.", "wc": 0.65, "pore": 2.418e-7, "vol": 0.1330},
    {"series": "w/c = 0.65 : Song et al.", "source": "Song et al.", "wc": 0.65, "pore": 2.730e-7, "vol": 0.1225},
    {"series": "w/c = 0.65 : Song et al.", "source": "Song et al.", "wc": 0.65, "pore": 3.442e-7, "vol": 0.1155},
    {"series": "w/c = 0.65 : Song et al.", "source": "Song et al.", "wc": 0.65, "pore": 4.143e-7, "vol": 0.1047},
    {"series": "w/c = 0.65 : Song et al.", "source": "Song et al.", "wc": 0.65, "pore": 5.47e-7, "vol": 0.0959},
    {"series": "w/c = 0.65 : Song et al.", "source": "Song et al.", "wc": 0.65, "pore": 6.52e-7, "vol": 0.0853},
    {"series": "w/c = 0.65 : Song et al.", "source": "Song et al.", "wc": 0.65, "pore": 8.12e-7, "vol": 0.0747},
    {"series": "w/c = 0.65 : Song et al.", "source": "Song et al.", "wc": 0.65, "pore": 1.029e-6, "vol": 0.0602},
    {"series": "w/c = 0.65 : Song et al.", "source": "Song et al.", "wc": 0.65, "pore": 1.292e-6, "vol": 0.0463},
    {"series": "w/c = 0.65 : Song et al.", "source": "Song et al.", "wc": 0.65, "pore": 1.606e-6, "vol": 0.0234},
    {"series": "w/c = 0.65 : Song et al.", "source": "Song et al.", "wc": 0.65, "pore": 2.204e-6, "vol": 0.0160},
    {"series": "w/c = 0.65 : Song et al.", "source": "Song et al.", "wc": 0.65, "pore": 2.654e-6, "vol": 0.0144},
    {"series": "w/c = 0.65 : Song et al.", "source": "Song et al.", "wc": 0.65, "pore": 2.906e-6, "vol": 0.0108},
    {"series": "w/c = 0.65 : Song et al.", "source": "Song et al.", "wc": 0.65, "pore": 3.346e-6, "vol": 0.0108},
    {"series": "w/c = 0.65 : Song et al.", "source": "Song et al.", "wc": 0.65, "pore": 4.175e-6, "vol": 0.0108},
    {"series": "w/c = 0.65 : Song et al.", "source": "Song et al.", "wc": 0.65, "pore": 5.43e-6, "vol": 0.0088},
    {"series": "w/c = 0.65 : Song et al.", "source": "Song et al.", "wc": 0.65, "pore": 7.69e-6, "vol": 0.0056},
    {"series": "w/c = 0.65 : Song et al.", "source": "Song et al.", "wc": 0.65, "pore": 9.30e-6, "vol": 0.0073},
    {"series": "w/c = 0.65 : Song et al.", "source": "Song et al.", "wc": 0.65, "pore": 1.152e-5, "vol": 0.0047},
    {"series": "w/c = 0.65 : Song et al.", "source": "Song et al.", "wc": 0.65, "pore": 1.364e-5, "vol": 0.0056},
    {"series": "w/c = 0.65 : Song et al.", "source": "Song et al.", "wc": 0.65, "pore": 1.645e-5, "vol": 0.0056},
    {"series": "w/c = 0.65 : Song et al.", "source": "Song et al.", "wc": 0.65, "pore": 2.083e-5, "vol": 0.0020},
    {"series": "w/c = 0.65 : Song et al.", "source": "Song et al.", "wc": 0.65, "pore": 3.01e-5, "vol": 0.0017},
    {"series": "w/c = 0.65 : Song et al.", "source": "Song et al.", "wc": 0.65, "pore": 3.52e-5, "vol": 0.0034},
    {"series": "w/c = 0.65 : Song et al.", "source": "Song et al.", "wc": 0.65, "pore": 4.42e-5, "vol": 0.0},
    {"series": "w/c = 0.65 : Song et al.", "source": "Song et al.", "wc": 0.65, "pore": 5.27e-5, "vol": 0.0},
    {"series": "w/c = 0.65 : Song et al.", "source": "Song et al.", "wc": 0.65, "pore": 6.19e-5, "vol": 0.0},
    {"series": "w/c = 0.65 : Song et al.", "source": "Song et al.", "wc": 0.65, "pore": 9.65e-5, "vol": 0.0034},
    {"series": "w/c = 0.65 : Song et al.", "source": "Song et al.", "wc": 0.65, "pore": 1.117e-4, "vol": 0.0017},
    {"series": "w/c = 0.65 : Song et al.", "source": "Song et al.", "wc": 0.65, "pore": 1.261e-4, "vol": 0.0}
  ]},
  "layer": [
    {
      "mark": {"type": "line", "strokeWidth": 2},
      "encoding": {
        "x": {
          "field": "pore", "type": "quantitative",
          "scale": {"type": "log", "domain": [1e-9, 5.8e-4], "nice": false},
          "axis": {
            "orient": "bottom",
            "values": [1e-9, 2e-9, 3e-9, 4e-9, 5e-9, 6e-9, 7e-9, 8e-9, 9e-9, 1e-8, 2e-8, 3e-8, 4e-8, 5e-8, 6e-8, 7e-8, 8e-8, 9e-8, 1e-7, 2e-7, 3e-7, 4e-7, 5e-7, 6e-7, 7e-7, 8e-7, 9e-7, 1e-6, 2e-6, 3e-6, 4e-6, 5e-6, 6e-6, 7e-6, 8e-6, 9e-6, 1e-5, 2e-5, 3e-5, 4e-5, 5e-5, 6e-5, 7e-5, 8e-5, 9e-5, 1e-4, 2e-4, 3e-4, 4e-4, 5e-4],
            "labelExpr": "abs(log(datum.value) / LN10 - round(log(datum.value) / LN10)) < 0.001 ? '10' : ''",
            "labelAlign": "right", "labelOffset": 2, "labelBaseline": "middle", "labelPadding": 32, "labelFontSize": 19.5,
            "tickSize": {"condition": {"test": "abs(log(datum.value) / LN10 - round(log(datum.value) / LN10)) < 0.001", "value": -7}, "value": -4},
            "grid": true,
            "gridColor": {"condition": {"test": "abs(log(datum.value) / LN10 - round(log(datum.value) / LN10)) < 0.001", "value": "#e2e2e2"}, "value": "#e6e6e6"},
            "gridDash": {"condition": {"test": "abs(log(datum.value) / LN10 - round(log(datum.value) / LN10)) < 0.001", "value": []}, "value": [1, 2]},
            "title": "Pore Size (m)", "titleFontSize": 20, "titleX": 329, "titleY": 60, "titleBaseline": "middle"
          }
        },
        "y": {
          "field": "vol", "type": "quantitative",
          "scale": {"domain": [-0.01, 0.26], "nice": false, "zero": false},
          "axis": {
            "orient": "left",
            "values": [0, 0.05, 0.1, 0.15, 0.2, 0.25],
            "format": "~g", "labelFontSize": 18, "labelPadding": 16,
            "tickSize": -7, "grid": true, "gridColor": "#e2e2e2",
            "title": "Cumulative Pore Volume (mL/g)", "titleFontSize": 19, "titleX": -63, "titleY": 321, "titleBaseline": "middle", "titleAngle": -90
          }
        },
        "stroke": {
          "field": "series", "type": "nominal",
          "scale": {
            "domain": ["w/c = 0.35 : Bu et al.", "w/c = 0.4 : Bu et al.", "w/c = 0.45 : Bu et al.", "w/c = 0.5 : Bu et al.", "w/c = 0.55 : Bu et al.", "w/c = 0.5 : Baeza et al.", "w/c = 0.45 : Winslow et al.", "w/c = 0.55 : Song et al.", "w/c = 0.65 : Song et al."],
            "range": ["#0000e8", "#0080ff", "#00ffff", "#80ff80", "#ffff00", "#80ff80", "#00ffff", "#ffff00", "#ff0000"]
          },
          "legend": {
            "orient": "none", "legendX": 336, "legendY": 15, "title": null,
            "padding": 5, "fillColor": "#ffffff", "strokeColor": "#262626",
            "rowPadding": 3.6, "symbolSize": 441, "symbolOffset": 6.5, "symbolStrokeWidth": 2,
            "labelOffset": 10, "labelFont": "Liberation Sans", "labelFontSize": 19.8, "labelFontWeight": "bold", "labelColor": "#000000", "labelLimit": 400,
            "encode": {
              "symbols": {"update": {
                "shape": {"signal": "indexof(datum.value, 'Bu et') >= 0 ? 'M-1.76,0H-0.43M0.43,0H1.76M0.43,0A0.43,0.43,0,1,1,-0.43,0A0.43,0.43,0,1,1,0.43,0Z' : 'M-1.76,0H-0.38M0.38,0H1.76M-0.38,-0.38H0.38V0.38H-0.38Z'"},
                "fill": {"scale": "stroke", "field": "value"},
                "stroke": {"scale": "stroke", "field": "value"},
                "strokeWidth": {"value": 2},
                "opacity": {"value": 1}
              }},
              "legend": {"update": {"strokeWidth": {"value": 2}}}
            }
          }
        }
      }
    },
    {
      "mark": {"type": "point", "filled": true, "size": 80, "stroke": "#000000", "strokeWidth": 1.3, "opacity": 1},
      "encoding": {
        "x": {
          "field": "pore", "type": "quantitative",
          "axis": {
            "orient": "top",
            "values": [1e-9, 2e-9, 3e-9, 4e-9, 5e-9, 6e-9, 7e-9, 8e-9, 9e-9, 1e-8, 2e-8, 3e-8, 4e-8, 5e-8, 6e-8, 7e-8, 8e-8, 9e-8, 1e-7, 2e-7, 3e-7, 4e-7, 5e-7, 6e-7, 7e-7, 8e-7, 9e-7, 1e-6, 2e-6, 3e-6, 4e-6, 5e-6, 6e-6, 7e-6, 8e-6, 9e-6, 1e-5, 2e-5, 3e-5, 4e-5, 5e-5, 6e-5, 7e-5, 8e-5, 9e-5, 1e-4, 2e-4, 3e-4, 4e-4, 5e-4],
            "labels": false, "grid": false, "title": null,
            "tickSize": {"condition": {"test": "abs(log(datum.value) / LN10 - round(log(datum.value) / LN10)) < 0.001", "value": -7}, "value": -4}
          }
        },
        "y": {
          "field": "vol", "type": "quantitative",
          "axis": {"orient": "right", "values": [0, 0.05, 0.1, 0.15, 0.2, 0.25], "labels": false, "grid": false, "title": null, "tickSize": -7}
        },
        "fill": {
          "field": "wc", "type": "ordinal",
          "scale": {"domain": [0.35, 0.4, 0.45, 0.5, 0.55, 0.65], "range": ["#0000e8", "#0080ff", "#00ffff", "#80ff80", "#ffff00", "#ff0000"]},
          "legend": null
        },
        "shape": {
          "field": "source", "type": "nominal",
          "scale": {"domain": ["Bu et al.", "Baeza et al.", "Winslow et al.", "Song et al."], "range": ["circle", "square", "square", "square"]},
          "legend": null
        }
      }
    },
    {
      "mark": {"type": "point", "size": 0, "strokeWidth": 0, "opacity": 1},
      "encoding": {
        "x": {
          "field": "pore", "type": "quantitative",
          "axis": {
            "orient": "bottom",
            "values": [1e-9, 1e-8, 1e-7, 1e-6, 1e-5, 1e-4],
            "labelExpr": "'-' + round(-log(datum.value) / LN10)",
            "labelAlign": "left", "labelOffset": 2, "labelBaseline": "middle", "labelPadding": 13, "labelFontSize": 14,
            "ticks": false, "tickSize": 0, "grid": false, "title": null
          }
        },
        "y": {"field": "vol", "type": "quantitative", "axis": null},
        "color": {
          "field": "wc", "type": "quantitative",
          "scale": {
            "domain": [0.35, 0.3875, 0.4625, 0.5375, 0.6125, 0.65],
            "range": ["#000080", "#0000ff", "#00ffff", "#ffff00", "#ff0000", "#800000"],
            "interpolate": "rgb"
          },
          "legend": {
            "orient": "none", "legendX": 669, "legendY": 0, "direction": "vertical", "title": null, "padding": 0,
            "gradientLength": 642, "gradientThickness": 17, "gradientStrokeColor": "#262626", "gradientStrokeWidth": 1,
            "values": [0.35, 0.4, 0.45, 0.5, 0.55, 0.6, 0.65], "format": "~g",
            "labelFont": "Liberation Sans", "labelFontSize": 16, "labelFontWeight": "bold", "labelColor": "#262626", "labelOffset": 9, "labelOverlap": false,
            "encode": {"labels": {"update": {"baseline": {"value": "middle"}}}}
          }
        }
      }
    }
  ],
  "resolve": {"axis": {"x": "independent", "y": "independent"}}
}
